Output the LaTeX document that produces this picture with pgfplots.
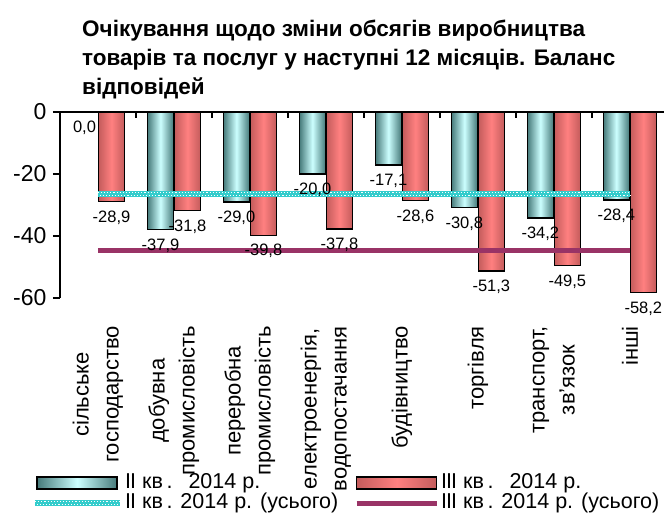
\documentclass[border=0pt]{standalone}
\usepackage{fontspec}
\setmainfont{Liberation Sans}
\usepackage{pgfplots}
\pgfplotsset{compat=1.18}
\definecolor{IIedge}{RGB}{70,122,122}
\definecolor{IImid}{RGB}{204,255,255}
\definecolor{IIIedge}{RGB}{196,92,92}
\definecolor{IIImid}{RGB}{255,128,128}
\definecolor{IItot}{RGB}{51,204,204}
\definecolor{IIItot}{RGB}{153,51,102}
\tikzset{
  IIbar/.style={draw=black, line width=1.5pt, left color=IIedge, right color=IIedge, middle color=IImid},
  IIIbar/.style={draw=black, line width=1.5pt, left color=IIIedge, right color=IIIedge, middle color=IIImid},
  IItotal/.style={draw=IItot, line width=6pt,
    postaction={draw=white, line width=1.1pt, dash pattern=on 1.1pt off 2pt, transform canvas={yshift=1.4pt}},
    postaction={draw=white, line width=1.1pt, dash pattern=on 1.1pt off 2pt, dash phase=1.5pt, transform canvas={yshift=-1.4pt}}},
  IIItotal/.style={draw=IIItot, line width=5pt},
}
\pgfplotsset{
  lbl/.style={nodes near coords={\pgfmathprintnumber[fixed,fixed zerofill,precision=1,use comma,assume math mode=true]{\pgfplotspointmeta}}},
  IIb/.style={IIbar, ybar, bar width=26pt, bar shift=-13.5pt, forget plot, lbl,
    every node near coord/.append style={xshift=-13.5pt}},
  IIIb/.style={IIIbar, ybar, bar width=26pt, bar shift=13.5pt, forget plot, lbl,
    every node near coord/.append style={xshift=13.5pt}},
}
\newcommand{\RII}{І\kern-1ptІ}
\newcommand{\RIII}{І\kern-1ptІ\kern-1ptІ}
\begin{document}
\begin{tikzpicture}
\useasboundingbox (-60pt,112pt) rectangle (604pt,-401pt);
\node[anchor=north west, align=left, inner sep=0pt, font=\fontsize{22.5}{29}\selectfont\bfseries] at (22pt,92.5pt)
  {Очікування щодо зміни обсягів виробництва\\товарів та послуг у наступні 12 місяців. Баланс\\відповідей};
\begin{axis}[
  at={(0pt,0pt)}, anchor=north west,
  scale only axis, width=604pt, height=186pt,
  xmin=-0.5, xmax=7.45, ymin=-60, ymax=0,
  axis y line*=left, axis x line*=bottom,
  x axis line style={draw=none},
  y axis line style={line width=1.5pt},
  ytick={-60,-40,-20,0},
  ytick style={line width=1.5pt, black},
  tick align=outside, major tick length=7pt,
  xtick={0,...,7},
  xtick style={draw=none},
  xticklabels={{сільське\\господарство},{добувна\\промисловість},{переробна\\промисловість},{електроенергія,\\водопостачання},{будівництво},{торгівля},{транспорт,\\зв’язок},{інші}},
  xticklabel shift=21pt,
  xticklabel style={rotate=90, anchor=east, align=center, inner sep=0pt, font=\fontsize{22}{30}\selectfont},
  yticklabel style={font=\fontsize{23}{23}\selectfont, xshift=-3pt},
  /pgf/number format/assume math mode=true,
  clip=false,
  legend columns=2,
  legend cell align=left,
  legend style={at={(rel axis cs:0,0)}, anchor=north west, xshift=-28pt, yshift=-175pt,
    draw=none, fill=none, inner sep=0pt, font=\fontsize{21.5}{21.5}\selectfont,
    nodes={text height=14pt, text depth=4pt, inner ysep=1pt},
    /tikz/every even column/.append style={column sep=14pt}},
  every node near coord/.append style={font=\fontsize{16.5}{16.5}\selectfont, anchor=north, yshift=-5pt},
]
% II кв. 2014 (бари)
\addplot[IIb, draw=black, fill=none, left color=white, right color=white, middle color=white] coordinates {(0,0)};
\addplot[IIb] coordinates {(1,-37.9)};
\addplot[IIb] coordinates {(2,-29.0)};
\addplot[IIb] coordinates {(3,-20.0)};
\addplot[IIb] coordinates {(4,-17.1)};
\addplot[IIb] coordinates {(5,-30.8)};
\addplot[IIb] coordinates {(6,-34.2)};
\addplot[IIb] coordinates {(7,-28.4)};
% III кв. 2014 (бари)
\addplot[IIIb] coordinates {(0,-28.9)};
\addplot[IIIb] coordinates {(1,-31.8)};
\addplot[IIIb] coordinates {(2,-39.8)};
\addplot[IIIb] coordinates {(3,-37.8)};
\addplot[IIIb] coordinates {(4,-28.6)};
\addplot[IIIb] coordinates {(5,-51.3)};
\addplot[IIIb] coordinates {(6,-49.5)};
\addplot[IIIb] coordinates {(7,-58.2)};
% totals
\addplot[IItotal, sharp plot, no marks, forget plot] coordinates {(0,-26.4) (7,-26.4)};
\addplot[IIItotal, sharp plot, no marks, forget plot] coordinates {(0,-44.8) (7,-44.8)};
\addlegendimage{legend image code/.code={\draw[IIbar] (0pt,-6pt) rectangle (80pt,6pt);}}
\addlegendentry{\RII\ кв\,.\hspace{16pt}2014 р.}
\addlegendimage{legend image code/.code={\draw[IIIbar] (0pt,-6pt) rectangle (80pt,6pt);}}
\addlegendentry{\RIII\ кв\,.\hspace{16pt}2014 р.}
\addlegendimage{legend image code/.code={\draw[IItotal] (-2pt,0pt) -- (83pt,0pt);}}
\addlegendentry{\RII\ кв\,. 2014 р. (усього)}
\addlegendimage{legend image code/.code={\draw[IIItotal] (0pt,0pt) -- (80pt,0pt);}}
\addlegendentry{\RIII\ кв\,. 2014 р. (усього)}
\draw[line width=1.5pt] (axis cs:-0.5,0) -- (axis cs:7.45,0);
\pgfplotsinvokeforeach{0.5,1.5,...,6.5}{\draw[line width=1.5pt] (axis cs:#1,0) -- ++(0pt,-6pt);}
\end{axis}
\end{tikzpicture}
\end{document}
